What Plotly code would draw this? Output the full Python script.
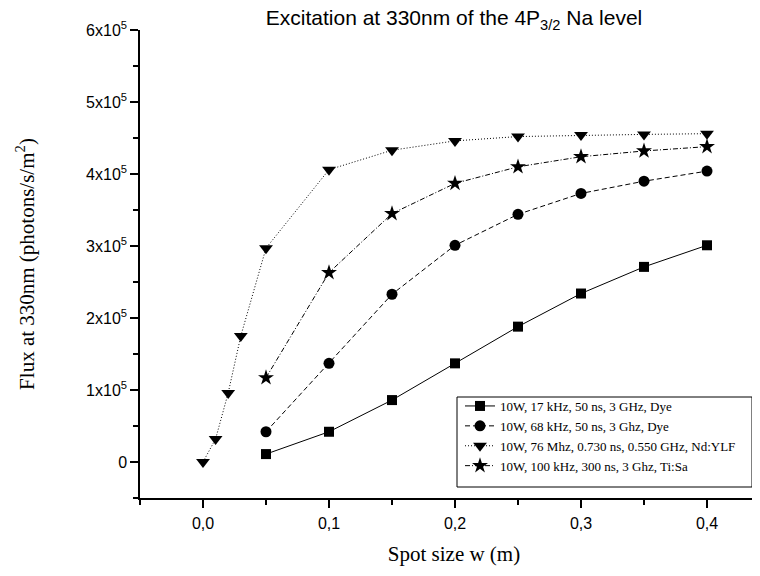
import plotly.graph_objects as go

# ---- data ----
x_common = [0.05, 0.10, 0.15, 0.20, 0.25, 0.30, 0.35, 0.40]
x_yLF = [0.0, 0.01, 0.02, 0.03, 0.05, 0.10, 0.15, 0.20, 0.25, 0.30, 0.35, 0.40]

flux_dye17 = [0.11e5, 0.42e5, 0.86e5, 1.37e5, 1.88e5, 2.34e5, 2.71e5, 3.01e5]
flux_dye68 = [0.42e5, 1.37e5, 2.33e5, 3.01e5, 3.44e5, 3.73e5, 3.90e5, 4.04e5]
flux_ndylf = [0.0, 0.32e5, 0.96e5, 1.75e5, 2.97e5, 4.06e5, 4.33e5, 4.46e5, 4.52e5, 4.54e5, 4.55e5, 4.56e5]
flux_tisa = [1.17e5, 2.63e5, 3.45e5, 3.87e5, 4.10e5, 4.24e5, 4.32e5, 4.38e5]

names = [
    "10W, 17 kHz, 50 ns, 3 GHz, Dye",
    "10W, 68 kHz, 50 ns, 3 Ghz, Dye",
    "10W, 76 Mhz, 0.730 ns, 0.550 GHz, Nd:YLF",
    "10W, 100 kHz, 300 ns, 3 Ghz, Ti:Sa",
]

x_tickvals = [0.0, 0.1, 0.2, 0.3, 0.4]
x_ticktext = ["0,0", "0,1", "0,2", "0,3", "0,4"]
y_tickvals = [0, 1e5, 2e5, 3e5, 4e5, 5e5, 6e5]
y_ticktext = ["0", "1x10<sup>5</sup>", "2x10<sup>5</sup>", "3x10<sup>5</sup>",
              "4x10<sup>5</sup>", "5x10<sup>5</sup>", "6x10<sup>5</sup>"]

# ---- figure ----
fig = go.Figure()
series = [
    (x_common, flux_dye17, names[0], "square", "solid", 10),
    (x_common, flux_dye68, names[1], "circle", "5px,3px", 11),
    (x_yLF, flux_ndylf, names[2], "triangle-down", "1px,2px", 12),
    (x_common, flux_tisa, names[3], "star", "5px,2px,1px,2px", 12),
]
for xs, ys, nm, sym, dash, sz in series:
    fig.add_trace(go.Scatter(
        x=xs, y=ys, name=nm, mode="lines+markers",
        line=dict(color="black", width=1, dash=dash),
        marker=dict(symbol=sym, size=sz, color="black"),
    ))

OFF = 8  # page body margin
W, H = 760, 576
L, R, T, B = 132, 0, 22, 86
pw, ph = W - L - R, H - T - B

def px_x(p):  # page pixel -> paper x
    return (p - OFF - L) / pw

def px_y(p):  # page pixel -> paper y
    return (H - B - (p - OFF)) / ph

fig.add_shape(type="rect", xref="paper", yref="paper",
              x0=px_x(457), x1=px_x(752), y0=px_y(487), y1=px_y(397),
              line=dict(color="black", width=1), fillcolor="rgba(0,0,0,0)")

fig.update_layout(
    width=W, height=H,
    margin=dict(l=L, r=R, t=T, b=B, autoexpand=False),
    plot_bgcolor="white", paper_bgcolor="white",
    title=dict(text="Excitation at 330nm of the 4P<sub>3/2</sub> Na level",
               x=0.5, xref="paper", y=1 - (18 - OFF) / H, yref="container",
               xanchor="center", yanchor="middle",
               font=dict(family="Liberation Sans", size=21, color="black")),
    showlegend=True,
    legend=dict(x=px_x(460), y=px_y(391), xanchor="left", yanchor="top",
                bgcolor="rgba(0,0,0,0)", borderwidth=0,
                font=dict(family="Liberation Serif", size=13, color="black"),
                tracegroupgap=0),
    xaxis=dict(range=[-0.05, -0.05 + pw / 1260], showline=True, linecolor="black", linewidth=1.5,
               ticks="outside", ticklen=8, tickwidth=1.5, tickcolor="black",
               tickvals=x_tickvals, ticktext=x_ticktext, ticklabelstandoff=2,
               minor=dict(dtick=0.05, tick0=0, ticks="outside", ticklen=5,
                          tickwidth=1.5, tickcolor="black", showgrid=False),
               showgrid=False, zeroline=False,
               tickfont=dict(family="Liberation Sans", size=16, color="black"),
               title=dict(text="Spot size w (m)", standoff=15,
                          font=dict(family="Liberation Serif", size=21, color="black"))),
    yaxis=dict(range=[-0.5e5, 6e5], showline=True, linecolor="black", linewidth=1.5,
               ticks="outside", ticklen=8, tickwidth=1.5, tickcolor="black",
               tickvals=y_tickvals, ticktext=y_ticktext,
               minor=dict(dtick=0.5e5, tick0=0, ticks="outside", ticklen=5,
                          tickwidth=1.5, tickcolor="black", showgrid=False),
               showgrid=False, zeroline=False,
               tickfont=dict(family="Liberation Sans", size=16, color="black"),
               title=dict(text="Flux at 330nm (photons/s/m<sup>2</sup>)", standoff=46,
                          font=dict(family="Liberation Serif", size=21, color="black"))),
)

fig.write_html("out.html")
